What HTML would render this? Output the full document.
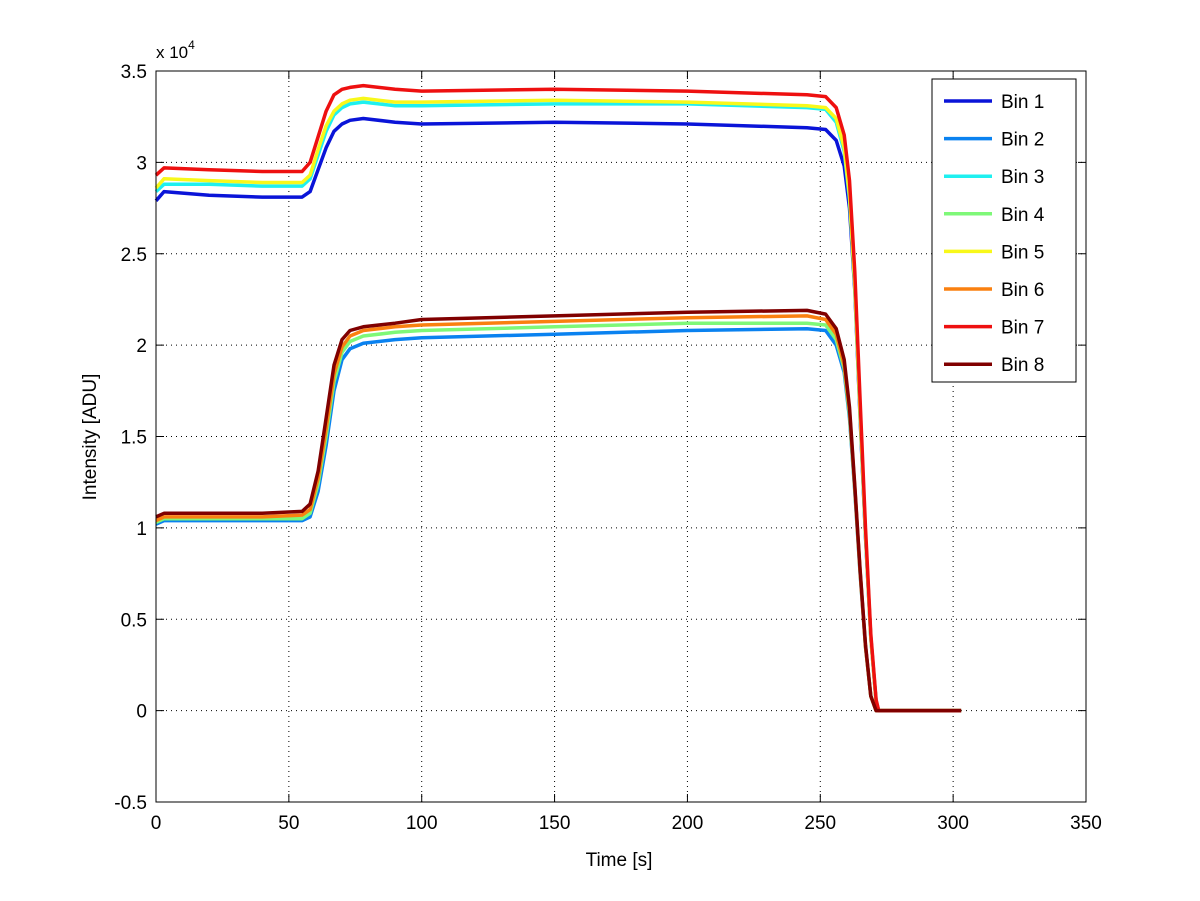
<!DOCTYPE html>
<html><head><meta charset="utf-8"><style>
body{margin:0;background:#fff;}
svg{display:block;font-family:"Liberation Sans",sans-serif;}
</style></head><body>
<svg id="chart" width="1200" height="901" viewBox="0 0 1200 901" xmlns="http://www.w3.org/2000/svg">
<rect width="1200" height="901" fill="#fff"/>
<g id="grid"></g><g id="series"></g><g id="axes"></g><g id="legend"></g>
</svg>
<script>
const times = [0,3,20,40,55,58,61,64,67,70,73,78,90,100,150,200,245,252,256,259,261,263,265,267,269,271,272,303];
const bin1 = [2.79,2.84,2.82,2.81,2.81,2.84,2.96,3.08,3.17,3.21,3.23,3.24,3.22,3.21,3.22,3.21,3.19,3.18,3.12,2.98,2.75,2.30,1.60,0.95,0.40,0.05,0,0];
const bin3 = [2.84,2.88,2.88,2.87,2.87,2.91,3.04,3.17,3.26,3.30,3.32,3.33,3.31,3.31,3.32,3.32,3.30,3.29,3.22,3.06,2.80,2.32,1.62,0.96,0.40,0.05,0,0];
const bin5 = [2.86,2.91,2.90,2.89,2.89,2.93,3.07,3.20,3.28,3.32,3.34,3.35,3.33,3.33,3.34,3.33,3.31,3.30,3.24,3.08,2.82,2.33,1.63,0.97,0.40,0.05,0,0];
const bin7 = [2.93,2.97,2.96,2.95,2.95,3.00,3.14,3.28,3.37,3.40,3.41,3.42,3.40,3.39,3.40,3.39,3.37,3.36,3.30,3.15,2.90,2.40,1.70,1.00,0.42,0.06,0,0];
const bin2 = [1.02,1.04,1.04,1.04,1.04,1.06,1.20,1.45,1.75,1.92,1.98,2.01,2.03,2.04,2.06,2.08,2.09,2.08,2.00,1.85,1.60,1.20,0.75,0.35,0.08,0,0,0];
const bin4 = [1.03,1.05,1.05,1.05,1.05,1.08,1.24,1.50,1.80,1.96,2.02,2.05,2.07,2.08,2.10,2.12,2.12,2.11,2.03,1.87,1.62,1.21,0.76,0.35,0.08,0,0,0];
const bin6 = [1.04,1.06,1.06,1.06,1.07,1.10,1.27,1.54,1.84,1.99,2.05,2.08,2.10,2.11,2.13,2.15,2.16,2.14,2.06,1.89,1.64,1.22,0.76,0.35,0.08,0,0,0];
const bin8 = [1.06,1.08,1.08,1.08,1.09,1.13,1.31,1.60,1.89,2.03,2.08,2.10,2.12,2.14,2.16,2.18,2.19,2.17,2.09,1.92,1.66,1.23,0.77,0.36,0.08,0,0,0];
const seriesNames = ["Bin 1","Bin 2","Bin 3","Bin 4","Bin 5","Bin 6","Bin 7","Bin 8"];
const seriesColors = ["#0a14d8","#0a82f0","#1ef0f0","#7ef878","#f8f81a","#fa8010","#ee1010","#800000"];
const seriesValues = [bin1,bin2,bin3,bin4,bin5,bin6,bin7,bin8];
const xTicks = [0,50,100,150,200,250,300,350];
const yTicks = [-0.5,0,0.5,1,1.5,2,2.5,3,3.5];
const yTickLabels = ["-0.5","0","0.5","1","1.5","2","2.5","3","3.5"];

const NS="http://www.w3.org/2000/svg";
const L=156,R=1086,T=71,B=802;
const xs=v=>L+(v-0)/350*(R-L);
const ys=v=>B-(v+0.5)/4*(B-T);
function mk(tag,attrs,parent){const e=document.createElementNS(NS,tag);for(const k in attrs)e.setAttribute(k,attrs[k]);parent.appendChild(e);return e;}
const grid=document.getElementById('grid'),axes=document.getElementById('axes'),ser=document.getElementById('series'),leg=document.getElementById('legend');

xTicks.forEach((t,i)=>{
  const x=xs(t);
  if(i>0&&i<xTicks.length-1){const g=mk('line',{x1:x,x2:x,y1:T,y2:B,stroke:'#000','stroke-width':1,'stroke-dasharray':'1,4'},grid);
  
  }
  mk('line',{x1:x,x2:x,y1:B,y2:B-8,stroke:'#000'},axes);
  mk('line',{x1:x,x2:x,y1:T,y2:T+8,stroke:'#000'},axes);
  const tx=mk('text',{x:x,y:B+27,'font-size':19,'text-anchor':'middle'},axes);tx.textContent=t;
  
  
});
yTicks.forEach((t,i)=>{
  const y=ys(t);
  if(i>0&&i<yTicks.length-1){const g=mk('line',{x1:L,x2:R,y1:y,y2:y,stroke:'#000','stroke-width':1,'stroke-dasharray':'1,4'},grid);
  
  }
  mk('line',{x1:L,x2:L+8,y1:y,y2:y,stroke:'#000'},axes);
  mk('line',{x1:R,x2:R-8,y1:y,y2:y,stroke:'#000'},axes);
  const tx=mk('text',{x:L-9,y:y+7,'font-size':19,'text-anchor':'end'},axes);tx.textContent=yTickLabels[i];
  
  
});
const frame=mk('rect',{x:L,y:T,width:R-L,height:B-T,fill:'none',stroke:'#000','stroke-width':1},axes);



seriesValues.forEach((vals,si)=>{
  const d=vals.map((v,i)=>(i?'L':'M')+xs(times[i]).toFixed(1)+','+ys(v).toFixed(1)).join(' ');
  const p=mk('path',{d:d,fill:'none',stroke:seriesColors[si],'stroke-width':3.5,'stroke-linejoin':'round'},ser);
  
  
});

const lb=mk('rect',{x:932,y:79,width:144,height:303,fill:'#fff',stroke:'#000','stroke-width':1},leg);


seriesNames.forEach((n,i)=>{
  const y=101+i*37.6;
  const g=mk('g',{},leg);
  
  
  mk('line',{x1:944,x2:992,y1:y,y2:y,stroke:seriesColors[i],'stroke-width':3.5},g);
  const t=mk('text',{x:1001,y:y+7,'font-size':19},g);t.textContent=n;
});
</script>
<svg style="position:absolute;left:0;top:0" width="1200" height="901" xmlns="http://www.w3.org/2000/svg">
<text x="156" y="58" font-size="17" font-family="Liberation Sans,sans-serif">x 10<tspan dy="-9" font-size="12">4</tspan></text>
<text x="619" y="866" font-size="19" text-anchor="middle" font-family="Liberation Sans,sans-serif">Time [s]</text>
<text transform="translate(96,437) rotate(-90)" font-size="19" text-anchor="middle" font-family="Liberation Sans,sans-serif">Intensity [ADU]</text>
</svg>
</body></html>
